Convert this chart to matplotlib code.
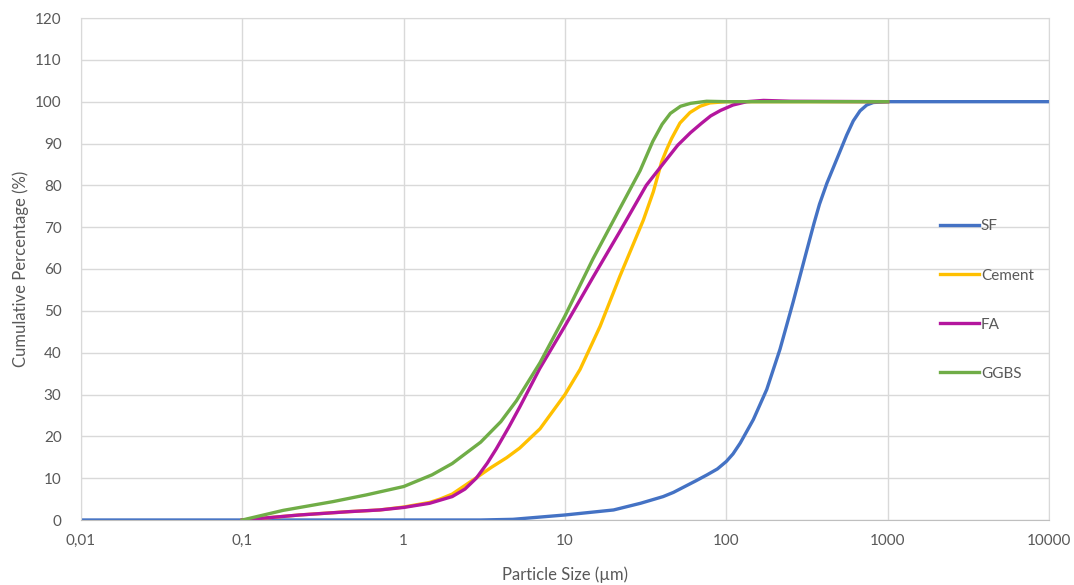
import matplotlib
matplotlib.use("Agg")
import matplotlib.pyplot as plt
from matplotlib.ticker import FixedLocator, NullLocator

# particle size distributions (size in µm, cumulative %)
sf_size = [0.01, 0.1, 1, 3, 4.76, 10, 20, 29.4, 40.6, 47, 65, 76, 88, 100, 110,
           122, 147, 178, 215, 259, 313, 350, 378, 420, 460, 505, 557, 612, 674,
           742, 815, 1000, 10000]
sf_pct = [0, 0, 0, 0, 0.16, 1.2, 2.4, 4.0, 5.6, 6.6, 9.4, 10.8, 12.2, 14.0, 15.8,
          18.4, 24.0, 31.2, 40.8, 52.0, 64.0, 71.0, 75.5, 80.5, 84.2, 88.0, 92.0,
          95.4, 97.8, 99.2, 99.8, 100, 100]

cement_size = [0.1, 0.226, 0.46, 0.71, 1, 1.45, 1.68, 2.0, 2.7, 3.5, 4.35, 5.24,
               7.0, 10, 12.4, 16.5, 21.9, 30.6, 35.3, 39.7, 42.7, 45.8, 51.6,
               59.5, 68.7, 79, 100, 1000]
cement_pct = [0, 1.2, 2.0, 2.4, 3.1, 4.2, 5.0, 6.2, 9.6, 12.6, 14.9, 17.2,
              21.8, 30.0, 36.0, 46.3, 58.3, 71.7, 78.5, 85.6, 88.6, 91.2, 94.9,
              97.4, 98.9, 99.7, 100, 100]

fa_size = [0.1, 0.226, 0.46, 0.71, 1, 1.45, 2.0, 2.4, 2.82, 3.3, 3.75, 4.5, 5.24,
           6.97, 10, 14.9, 21.9, 31.9, 42.6, 50, 60, 70, 80, 92, 110, 134, 170,
           250, 1000]
fa_pct = [0, 1.2, 2.0, 2.4, 3.0, 4.0, 5.6, 7.4, 10.0, 13.6, 17.0, 22.3, 27.0,
          36.2, 46.4, 58.0, 69.0, 80.0, 86.2, 89.6, 92.6, 94.8, 96.6, 97.9, 99.2,
          100, 100.3, 100.1, 100]

ggbs_size = [0.1, 0.179, 0.365, 0.587, 1, 1.5, 2, 3, 4, 5, 7, 10, 14.9, 21.9,
             29.2, 35, 40, 45, 52, 60, 75.5, 100, 1000]
ggbs_pct = [0, 2.3, 4.4, 6.0, 8.0, 10.8, 13.5, 18.6, 23.5, 28.5, 37.6, 48.8,
            62.4, 74.5, 83.5, 90.5, 94.6, 97.2, 98.9, 99.6, 100.1, 100, 100]

x_ticks = [0.01, 0.1, 1, 10, 100, 1000, 10000]
x_labels = ["0,01", "0,1", "1", "10", "100", "1000", "10000"]
y_ticks = list(range(0, 121, 10))

plt.rcParams["font.family"] = ["Lato", "DejaVu Sans"]

fig = plt.figure(figsize=(10.74, 5.85), dpi=100)
ax = fig.add_axes([81 / 1074, 65 / 585, 968 / 1074, 502 / 585])

lw = 2.4
ax.plot(sf_size, sf_pct, color="#4472C4", lw=lw, label="SF")
ax.plot(cement_size, cement_pct, color="#FFC000", lw=lw, label="Cement")
ax.plot(fa_size, fa_pct, color="#B4169E", lw=lw, label="FA")
ax.plot(ggbs_size, ggbs_pct, color="#70AD47", lw=lw, label="GGBS")

ax.set_xscale("log")
ax.set_xlim(0.01, 10000)
ax.set_ylim(0, 120)
ax.xaxis.set_major_locator(FixedLocator(x_ticks))
ax.xaxis.set_minor_locator(NullLocator())
ax.set_xticklabels(x_labels)
ax.set_yticks(y_ticks)

ax.grid(True, color="#D9D9D9", lw=1)
ax.set_axisbelow(True)
for side in ["top", "right", "left"]:
    ax.spines[side].set_color("#D9D9D9")
ax.spines["bottom"].set_color("#BFBFBF")
ax.tick_params(length=0, labelsize=11, colors="#595959")
ax.tick_params(axis="x", pad=10)
ax.tick_params(axis="y", pad=14)

ax.set_xlabel("Particle Size (µm)", fontsize=12, color="#595959", labelpad=13)
ax.set_ylabel("Cumulative Percentage (%)", fontsize=12, color="#595959", labelpad=4)

ax.legend(loc="center left", bbox_to_anchor=(0.887, 0.438), frameon=False,
          fontsize=11, handlelength=2.6, handletextpad=0.1, labelspacing=2.3,
          borderpad=0, borderaxespad=0, labelcolor="#595959")

fig.savefig("out.png", dpi=100)
